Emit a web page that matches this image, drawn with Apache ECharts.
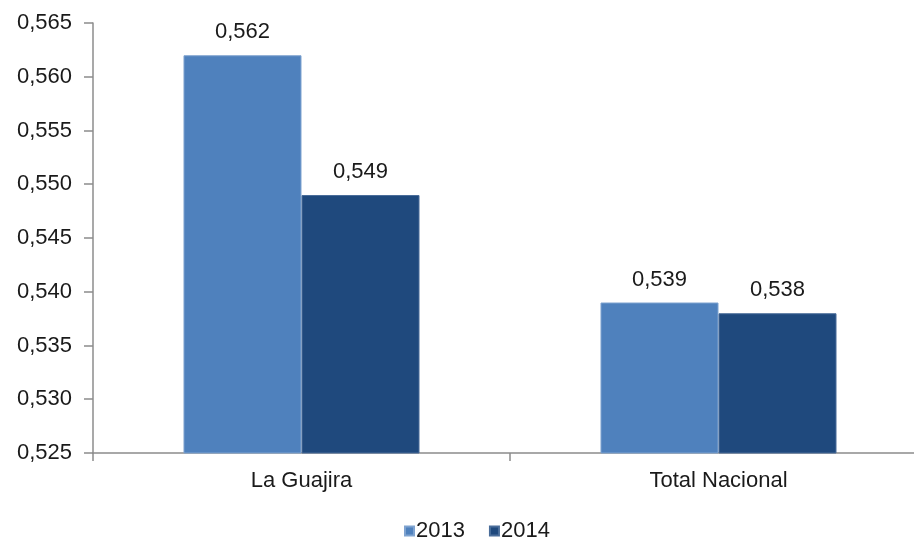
<!DOCTYPE html>
<html>
<head>
<meta charset="utf-8">
<script src="https://cdn.jsdelivr.net/npm/echarts@6/dist/echarts.min.js"></script>
<style>
  html, body { margin: 0; padding: 0; background: #fff; overflow: hidden; }
  /* el eje x sigue más allá del borde derecho, por eso el div es más ancho */
  #chart { width: 927px; height: 539px; }
</style>
</head>
<body>
<div id="chart"></div>
<script>
// datos
const categories = ['La Guajira', 'Total Nacional']
const years = ['2013', '2014']
const values2013 = [0.562, 0.539]
const values2014 = [0.549, 0.538]

const fmt = v => v.toFixed(3).replace('.', ',')
const font = 'Arial, "Liberation Sans", sans-serif'

const myChart = echarts.init(document.getElementById('chart'))

const labelStyle = {
  show: true,
  position: 'top',
  distance: 12,
  color: '#1a1a1a',
  fontSize: 22,
  fontFamily: font,
  formatter: p => fmt(p.value)
}

const option = {
  animation: false,
  grid: { left: 93, right: 0, top: 23, bottom: 86 },
  legend: {
    data: years,
    bottom: -8,
    left: 399,
    icon: 'rect',
    itemWidth: 9,
    itemHeight: 9,
    itemGap: 24,
    textStyle: { fontSize: 22, color: '#1a1a1a', fontFamily: font, padding: [0, 0, 0, -3] }
  },
  xAxis: {
    type: 'category',
    data: categories,
    axisLine: { lineStyle: { color: '#8c8c8c', width: 1.5 } },
    axisTick: { show: true, length: 8, lineStyle: { color: '#8c8c8c', width: 1.5 } },
    axisLabel: { color: '#1a1a1a', fontSize: 22, fontFamily: font, margin: 17 }
  },
  yAxis: {
    type: 'value',
    min: 0.525,
    max: 0.565,
    interval: 0.005,
    axisLine: { show: true, lineStyle: { color: '#8c8c8c', width: 1.5 } },
    axisTick: { show: true, length: 9, lineStyle: { color: '#8c8c8c', width: 1.5 } },
    splitLine: { show: false },
    axisLabel: { color: '#1a1a1a', fontSize: 22, fontFamily: font, margin: 21, formatter: v => fmt(v) }
  },
  series: [
    {
      name: years[0],
      type: 'bar',
      data: values2013,
      barGap: '0%',
      barCategoryGap: '43.4%',
      itemStyle: { color: '#4f81bd', borderColor: '#7fa3d0', borderWidth: 1 },
      label: labelStyle
    },
    {
      name: years[1],
      type: 'bar',
      data: values2014,
      itemStyle: { color: '#1f497d', borderColor: '#4a6d9a', borderWidth: 1 },
      label: labelStyle
    }
  ]
}

myChart.setOption(option)
</script>
</body>
</html>
